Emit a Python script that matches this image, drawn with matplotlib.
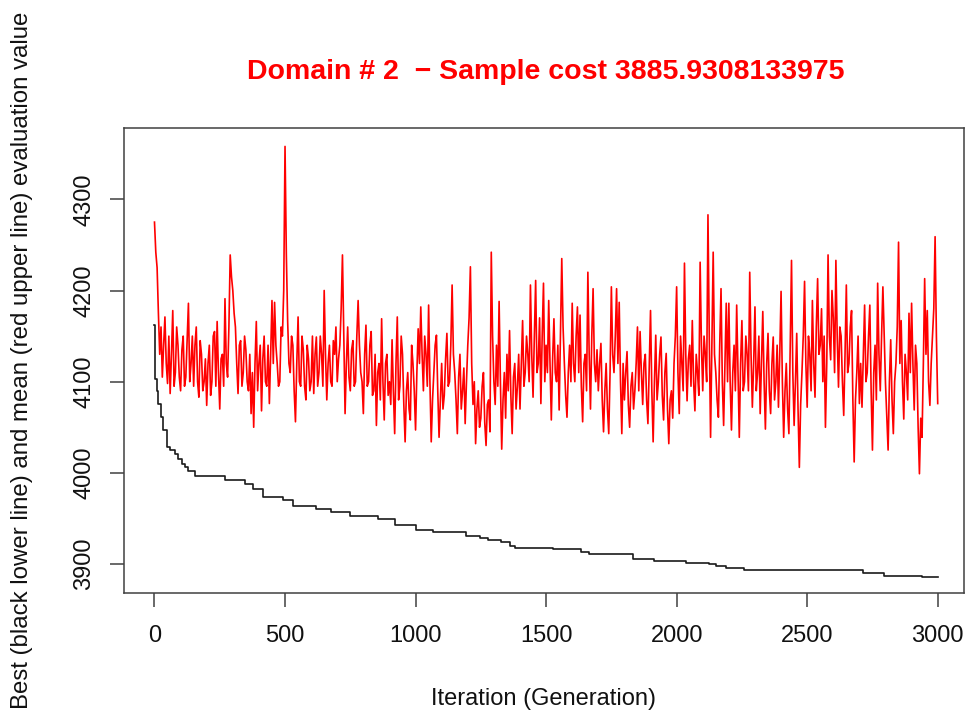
import numpy as np
import matplotlib
matplotlib.use("Agg")
import matplotlib.pyplot as plt

plt.rcParams['font.family'] = ['Liberation Sans', 'DejaVu Sans']

# ---- data ----
title_text = "Domain # 2  \u2212 Sample cost 3885.9308133975"
x_label = "Iteration (Generation)"
y_label = "Best (black lower line) and mean (red upper line) evaluation value"

x_ticks = [0, 500, 1000, 1500, 2000, 2500, 3000]
y_ticks = [3900, 4000, 4100, 4200, 4300]

# mean evaluation (red), read at iterations 0, 10, 20, ... 3000
red_values = [
    4275, 4225, 4130, 4105, 4171, 4098, 4087, 4178, 4110, 4140,
    4090, 4150, 4105, 4186, 4120, 4095, 4160, 4083, 4130, 4100,
    4074, 4140, 4100, 4155, 4166, 4070, 4130, 4191, 4105, 4239,
    4200, 4160, 4087, 4145, 4110, 4135, 4090, 4065, 4050, 4166,
    4120, 4068, 4150, 4095, 4076, 4189, 4187, 4120, 4100, 4150,
    4358, 4167, 4110, 4140, 4056, 4171, 4095, 4135, 4080, 4125,
    4100, 4087, 4149, 4110, 4130, 4200, 4080, 4140, 4095, 4130,
    4100, 4140, 4239, 4065, 4160, 4090, 4145, 4100, 4189, 4110,
    4065, 4162, 4100, 4155, 4090, 4052, 4120, 4169, 4058, 4130,
    4100, 4146, 4043, 4171, 4095, 4130, 4034, 4110, 4058, 4120,
    4047, 4158, 4182, 4090, 4130, 4184, 4034, 4110, 4151, 4039,
    4120, 4085, 4153, 4100, 4206, 4110, 4043, 4130, 4090, 4054,
    4140, 4226, 4075, 4032, 4090, 4060, 4110, 4030, 4080, 4242,
    4100, 4140, 4188, 4026, 4110, 4130, 4156, 4043, 4120, 4095,
    4070, 4167, 4110, 4130, 4206, 4083, 4211, 4120, 4076, 4208,
    4140, 4189, 4058, 4169, 4100, 4069, 4235, 4120, 4061, 4140,
    4186, 4100, 4182, 4173, 4056, 4130, 4220, 4070, 4202, 4100,
    4090, 4142, 4045, 4120, 4043, 4204, 4110, 4202, 4187, 4043,
    4080, 4133, 4050, 4110, 4090, 4160, 4155, 4075, 4130, 4054,
    4178, 4034, 4151, 4100, 4149, 4058, 4131, 4032, 4090, 4120,
    4204, 4065, 4120, 4230, 4079, 4140, 4167, 4068, 4110, 4231,
    4090, 4130, 4283, 4039, 4242, 4110, 4061, 4202, 4052, 4186,
    4186, 4047, 4140, 4184, 4039, 4167, 4100, 4130, 4220, 4072,
    4182, 4110, 4065, 4177, 4048, 4153, 4065, 4149, 4100, 4072,
    4199, 4039, 4120, 4043, 4233, 4052, 4153, 4006, 4110, 4210,
    4072, 4130, 4189, 4083, 4213, 4140, 4100, 4050, 4239, 4124,
    4170, 4233, 4094, 4150, 4063, 4206, 4120, 4178, 4012, 4110,
    4076, 4072, 4184, 4110, 4184, 4025, 4140, 4208, 4090, 4204,
    4098, 4025, 4146, 4043, 4120, 4253, 4167, 4059, 4110, 4175,
    4186, 4069, 4120, 3999, 4039, 4213, 4178, 4074, 4150, 4259,
    4076,
]
# mean evaluation (red), read at iterations 5, 15, 25, ... 2995
red_values_mid = [
    4242, 4175, 4160, 4140, 4120, 4150, 4130, 4095, 4160, 4105,
    4135, 4095, 4145, 4100, 4150, 4140, 4100, 4145, 4090, 4125,
    4120, 4085, 4150, 4095, 4110, 4125, 4095, 4120, 4160, 4215,
    4175, 4120, 4140, 4095, 4150, 4100, 4130, 4110, 4120, 4090,
    4140, 4125, 4100, 4140, 4130, 4120, 4140, 4095, 4160, 4200,
    4240, 4120, 4150, 4090, 4120, 4100, 4150, 4095, 4140, 4090,
    4150, 4130, 4095, 4150, 4095, 4130, 4120, 4100, 4145, 4160,
    4125, 4180, 4150, 4120, 4105, 4135, 4095, 4150, 4140, 4100,
    4130, 4095, 4140, 4085, 4130, 4110, 4080, 4100, 4120, 4085,
    4075, 4090, 4120, 4080, 4150, 4075, 4090, 4070, 4140, 4090,
    4110, 4120, 4130, 4150, 4095, 4100, 4080, 4140, 4090, 4080,
    4070, 4125, 4095, 4140, 4130, 4080, 4105, 4070, 4115, 4100,
    4170, 4120, 4100, 4070, 4050, 4095, 4055, 4075, 4045, 4150,
    4075, 4095, 4100, 4080, 4060, 4090, 4085, 4105, 4070, 4130,
    4120, 4095, 4150, 4100, 4130, 4150, 4110, 4170, 4150, 4100,
    4110, 4120, 4125, 4110, 4140, 4150, 4160, 4085, 4110, 4100,
    4120, 4150, 4110, 4095, 4120, 4090, 4130, 4150, 4120, 4135,
    4120, 4080, 4090, 4070, 4110, 4130, 4150, 4120, 4100, 4120,
    4110, 4075, 4095, 4070, 4120, 4090, 4110, 4120, 4080, 4115,
    4090, 4100, 4080, 4130, 4085, 4110, 4070, 4080, 4060, 4150,
    4110, 4150, 4090, 4130, 4125, 4095, 4100, 4130, 4085, 4140,
    4150, 4100, 4150, 4140, 4130, 4080, 4140, 4100, 4120, 4100,
    4100, 4110, 4090, 4110, 4120, 4090, 4150, 4090, 4130, 4120,
    4090, 4150, 4120, 4100, 4120, 4090, 4120, 4080, 4140, 4130,
    4100, 4090, 4070, 4140, 4110, 4100, 4070, 4075, 4150, 4120,
    4150, 4090, 4120, 4160, 4130, 4180, 4150, 4120, 4150, 4200,
    4110, 4150, 4160, 4100, 4130, 4110, 4160, 4080, 4080, 4150,
    4120, 4130, 4100, 4150, 4090, 4110, 4080, 4130, 4150, 4150,
    4060, 4100, 4080, 4100, 4160, 4120, 4100, 4130, 4080, 4110,
    4120, 4140, 4050, 4060, 4120, 4130, 4100, 4120, 4180, 4150,
]

# best evaluation (black): iteration where the best value changes, and new value
black_iters = [0, 2, 8, 15, 25, 34, 47, 60, 78, 90, 104, 115, 129, 155,
               270, 346, 378, 416, 493, 531, 620, 678, 748, 856, 920,
               1003, 1067, 1194, 1245, 1277, 1328, 1360, 1380, 1526,
               1634, 1666, 1832, 1915, 2036, 2125, 2151, 2189, 2259,
               2495, 2712, 2795, 2941, 3000]
black_values = [4162, 4103, 4090, 4075, 4061, 4047, 4028, 4025, 4021, 4015,
                4010, 4006, 4002, 3997, 3992, 3988, 3982, 3973, 3970, 3964,
                3960, 3957, 3953, 3949, 3943, 3937, 3935, 3931, 3929, 3926,
                3924, 3920, 3918, 3916, 3913, 3911, 3905, 3903, 3901, 3900,
                3898, 3896, 3894, 3893, 3890, 3887, 3885.93, 3885.93]

# merge the two red readings into one series ordered by iteration
red_it_main = np.arange(len(red_values)) * 10
red_it_mid = np.arange(len(red_values_mid)) * 10 + 5
red_it = np.concatenate([red_it_main, red_it_mid])
red_val = np.concatenate([np.array(red_values, float), np.array(red_values_mid, float)])
order = np.argsort(red_it, kind='stable')
red_it, red_val = red_it[order], red_val[order]

# ---- figure ----
W, H = 968, 713
fig = plt.figure(figsize=(W / 100, H / 100), dpi=100)
ax_l, ax_r, ax_t, ax_b = 123.5, 964.0, 128.3, 593.3
ax = fig.add_axes([ax_l / W, 1 - ax_b / H, (ax_r - ax_l) / W, (ax_b - ax_t) / H])

ax.plot(red_it, red_val, color='#ff0000', lw=1.2)
ax.plot(black_iters, black_values, color='#1a1a1a', lw=1.2, drawstyle='steps-post')

ax.set_xlim(-118.7, 3100.7)
ax.set_ylim(3867.9, 4377.9)
ax.set_xticks(x_ticks)
ax.set_yticks(y_ticks)
ax.set_xticklabels([str(v) for v in x_ticks])
ax.set_yticklabels([str(v) for v in y_ticks])

for s in ax.spines.values():
    s.set_color('#404040')
    s.set_linewidth(1.1)

ax.tick_params(axis='both', direction='out', length=10, width=1.1,
               color='#404040', labelsize=17, labelcolor='#111111')
ax.tick_params(axis='x', pad=13)
ax.tick_params(axis='y', pad=10.5)
for lab in ax.get_yticklabels():
    lab.set_rotation(90)
    lab.set_va('center')
    lab.set_ha('right')

ax.set_xlabel(x_label, fontsize=17, color='#111111')
ax.xaxis.set_label_coords(0.5, -(705 - ax_b) / (ax_b - ax_t))
ax.xaxis.label.set_va('baseline')

ax.set_ylabel(y_label, fontsize=17.3, color='#111111')
ax.yaxis.set_label_coords(-(ax_l - 22) / (ax_r - ax_l), 0.5)
ax.yaxis.label.set_va('center')

fig.text(546 / W, 1 - 79 / H, title_text, color='#ff0000', fontsize=20.5,
         fontweight='bold', ha='center', va='baseline')

fig.savefig('out.png', dpi=100)
